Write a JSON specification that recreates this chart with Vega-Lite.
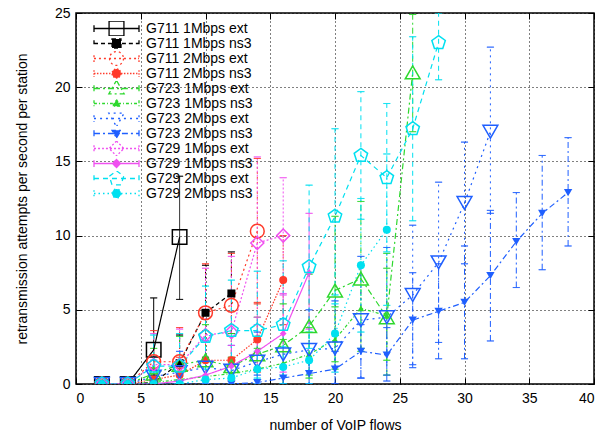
{
  "$schema": "https://vega.github.io/schema/vega-lite/v6.json",
  "width": 518,
  "height": 371,
  "autosize": {"type": "none"},
  "padding": {"left": 76, "top": 13, "right": 19, "bottom": 50},
  "config": {
    "font": "Liberation Sans",
    "view": {"stroke": "#000", "strokeWidth": 1.5},
    "axis": {"labelFontSize": 14, "titleFontSize": 14, "titleFontWeight": "normal", "labelColor": "#000", "titleColor": "#000", "tickColor": "#000", "domain": false}
  },
  "data": {"values": [
    {"s":"G711 1Mbps ext","x":2,"y":0,"lo":0,"hi":0},{"s":"G711 1Mbps ext","x":4,"y":0,"lo":0,"hi":0},{"s":"G711 1Mbps ext","x":6,"y":2.3,"lo":0,"hi":5.8},{"s":"G711 1Mbps ext","x":8,"y":9.9,"lo":5.7,"hi":14.0},
    {"s":"G711 1Mbps ns3","x":2,"y":0,"lo":0,"hi":0},{"s":"G711 1Mbps ns3","x":4,"y":0,"lo":0,"hi":0},{"s":"G711 1Mbps ns3","x":6,"y":0.1,"lo":0,"hi":0.6},{"s":"G711 1Mbps ns3","x":8,"y":1.4,"lo":0,"hi":3.3},{"s":"G711 1Mbps ns3","x":10,"y":4.8,"lo":1.8,"hi":8.0},{"s":"G711 1Mbps ns3","x":12,"y":6.1,"lo":3.4,"hi":8.9},
    {"s":"G711 2Mbps ext","x":2,"y":0,"lo":0,"hi":0},{"s":"G711 2Mbps ext","x":4,"y":0,"lo":0,"hi":0},{"s":"G711 2Mbps ext","x":6,"y":1.5,"lo":0,"hi":3.6},{"s":"G711 2Mbps ext","x":8,"y":1.5,"lo":0,"hi":3.8},{"s":"G711 2Mbps ext","x":10,"y":4.8,"lo":1.6,"hi":8.1},{"s":"G711 2Mbps ext","x":12,"y":5.3,"lo":1.8,"hi":8.8},{"s":"G711 2Mbps ext","x":14,"y":10.3,"lo":5.4,"hi":15.2},
    {"s":"G711 2Mbps ns3","x":2,"y":0,"lo":0,"hi":0},{"s":"G711 2Mbps ns3","x":4,"y":0,"lo":0,"hi":0},{"s":"G711 2Mbps ns3","x":6,"y":0.3,"lo":0,"hi":1.0},{"s":"G711 2Mbps ns3","x":8,"y":0.6,"lo":0,"hi":1.8},{"s":"G711 2Mbps ns3","x":10,"y":1.6,"lo":0,"hi":3.6},{"s":"G711 2Mbps ns3","x":12,"y":1.6,"lo":0.2,"hi":3.2},{"s":"G711 2Mbps ns3","x":14,"y":3.0,"lo":0.8,"hi":5.5},{"s":"G711 2Mbps ns3","x":16,"y":7.0,"lo":4.0,"hi":10.0},
    {"s":"G723 1Mbps ext","x":2,"y":0,"lo":0,"hi":0},{"s":"G723 1Mbps ext","x":4,"y":0,"lo":0,"hi":0},{"s":"G723 1Mbps ext","x":6,"y":0.7,"lo":0,"hi":2.4},{"s":"G723 1Mbps ext","x":8,"y":1.3,"lo":0,"hi":3.2},{"s":"G723 1Mbps ext","x":10,"y":1.6,"lo":0,"hi":4.0},{"s":"G723 1Mbps ext","x":12,"y":1.2,"lo":0,"hi":3.4},{"s":"G723 1Mbps ext","x":14,"y":2.0,"lo":0,"hi":4.5},{"s":"G723 1Mbps ext","x":16,"y":2.6,"lo":0,"hi":5.4},{"s":"G723 1Mbps ext","x":18,"y":3.9,"lo":0.6,"hi":7.4},{"s":"G723 1Mbps ext","x":20,"y":6.3,"lo":1.5,"hi":11.3},{"s":"G723 1Mbps ext","x":22,"y":7.1,"lo":2.2,"hi":12.3},{"s":"G723 1Mbps ext","x":24,"y":4.5,"lo":0.6,"hi":8.8},{"s":"G723 1Mbps ext","x":26,"y":21.0,"lo":17.0,"hi":24.9},
    {"s":"G723 1Mbps ns3","x":2,"y":0,"lo":0,"hi":0},{"s":"G723 1Mbps ns3","x":4,"y":0,"lo":0,"hi":0},{"s":"G723 1Mbps ns3","x":6,"y":0.1,"lo":0,"hi":0.7},{"s":"G723 1Mbps ns3","x":8,"y":0.3,"lo":0,"hi":1.2},{"s":"G723 1Mbps ns3","x":10,"y":0.5,"lo":0,"hi":1.5},{"s":"G723 1Mbps ns3","x":12,"y":0.7,"lo":0,"hi":1.8},{"s":"G723 1Mbps ns3","x":14,"y":1.0,"lo":0,"hi":2.4},{"s":"G723 1Mbps ns3","x":16,"y":1.4,"lo":0,"hi":3.0},{"s":"G723 1Mbps ns3","x":18,"y":2.0,"lo":0.4,"hi":3.8},{"s":"G723 1Mbps ns3","x":20,"y":3.0,"lo":1.0,"hi":5.2},{"s":"G723 1Mbps ns3","x":22,"y":5.1,"lo":2.4,"hi":8.0},{"s":"G723 1Mbps ns3","x":24,"y":4.6,"lo":1.6,"hi":7.8},
    {"s":"G723 2Mbps ext","x":2,"y":0,"lo":0,"hi":0},{"s":"G723 2Mbps ext","x":4,"y":0,"lo":0,"hi":0},{"s":"G723 2Mbps ext","x":6,"y":0.5,"lo":0,"hi":1.6},{"s":"G723 2Mbps ext","x":8,"y":0.8,"lo":0,"hi":2.2},{"s":"G723 2Mbps ext","x":10,"y":1.1,"lo":0,"hi":2.9},{"s":"G723 2Mbps ext","x":12,"y":0.9,"lo":0,"hi":2.6},{"s":"G723 2Mbps ext","x":14,"y":1.5,"lo":0,"hi":3.5},{"s":"G723 2Mbps ext","x":16,"y":2.0,"lo":0,"hi":4.4},{"s":"G723 2Mbps ext","x":18,"y":2.3,"lo":0,"hi":5.0},{"s":"G723 2Mbps ext","x":20,"y":2.4,"lo":0,"hi":5.6},{"s":"G723 2Mbps ext","x":22,"y":4.3,"lo":0.4,"hi":8.6},{"s":"G723 2Mbps ext","x":24,"y":4.5,"lo":0.6,"hi":9.2},{"s":"G723 2Mbps ext","x":26,"y":6.0,"lo":1.3,"hi":10.7},{"s":"G723 2Mbps ext","x":28,"y":8.2,"lo":2.8,"hi":13.6},{"s":"G723 2Mbps ext","x":30,"y":12.2,"lo":8.1,"hi":16.3},{"s":"G723 2Mbps ext","x":32,"y":17.0,"lo":11.5,"hi":22.7},
    {"s":"G723 2Mbps ns3","x":2,"y":0,"lo":0,"hi":0},{"s":"G723 2Mbps ns3","x":4,"y":0,"lo":0,"hi":0},{"s":"G723 2Mbps ns3","x":6,"y":0,"lo":0,"hi":0},{"s":"G723 2Mbps ns3","x":8,"y":0,"lo":0,"hi":0.2},{"s":"G723 2Mbps ns3","x":10,"y":0,"lo":0,"hi":0.3},{"s":"G723 2Mbps ns3","x":12,"y":0,"lo":0,"hi":0.3},{"s":"G723 2Mbps ns3","x":14,"y":0.1,"lo":0,"hi":0.6},{"s":"G723 2Mbps ns3","x":16,"y":0.4,"lo":0,"hi":1.1},{"s":"G723 2Mbps ns3","x":18,"y":0.7,"lo":0,"hi":1.6},{"s":"G723 2Mbps ns3","x":20,"y":1.0,"lo":0,"hi":2.2},{"s":"G723 2Mbps ns3","x":22,"y":2.2,"lo":0.4,"hi":4.0},{"s":"G723 2Mbps ns3","x":24,"y":1.95,"lo":0.2,"hi":3.8},{"s":"G723 2Mbps ns3","x":26,"y":4.3,"lo":1.1,"hi":7.5},{"s":"G723 2Mbps ns3","x":28,"y":4.9,"lo":1.7,"hi":8.1},{"s":"G723 2Mbps ns3","x":30,"y":5.5,"lo":1.7,"hi":9.3},{"s":"G723 2Mbps ns3","x":32,"y":7.3,"lo":2.9,"hi":11.7},{"s":"G723 2Mbps ns3","x":34,"y":9.6,"lo":6.5,"hi":12.9},{"s":"G723 2Mbps ns3","x":36,"y":11.5,"lo":7.7,"hi":15.4},{"s":"G723 2Mbps ns3","x":38,"y":12.9,"lo":9.3,"hi":16.6},
    {"s":"G729 1Mbps ext","x":2,"y":0,"lo":0,"hi":0},{"s":"G729 1Mbps ext","x":4,"y":0,"lo":0,"hi":0},{"s":"G729 1Mbps ext","x":6,"y":1.3,"lo":0,"hi":3.4},{"s":"G729 1Mbps ext","x":8,"y":1.3,"lo":0,"hi":3.7},{"s":"G729 1Mbps ext","x":10,"y":3.3,"lo":0,"hi":7.8},{"s":"G729 1Mbps ext","x":12,"y":3.5,"lo":0.4,"hi":8.6},{"s":"G729 1Mbps ext","x":14,"y":9.5,"lo":4.0,"hi":15.3},{"s":"G729 1Mbps ext","x":16,"y":10.0,"lo":6.1,"hi":13.9},
    {"s":"G729 1Mbps ns3","x":2,"y":0,"lo":0,"hi":0},{"s":"G729 1Mbps ns3","x":4,"y":0,"lo":0,"hi":0},{"s":"G729 1Mbps ns3","x":6,"y":0,"lo":0,"hi":0.2},{"s":"G729 1Mbps ns3","x":8,"y":0.2,"lo":0,"hi":0.8},{"s":"G729 1Mbps ns3","x":10,"y":0.6,"lo":0,"hi":1.6},{"s":"G729 1Mbps ns3","x":12,"y":1.2,"lo":0,"hi":2.6},{"s":"G729 1Mbps ns3","x":14,"y":2.2,"lo":0,"hi":4.5},{"s":"G729 1Mbps ns3","x":16,"y":3.4,"lo":0.8,"hi":6.0},{"s":"G729 1Mbps ns3","x":18,"y":7.5,"lo":3.7,"hi":11.5},
    {"s":"G729 2Mbps ext","x":2,"y":0,"lo":0,"hi":0},{"s":"G729 2Mbps ext","x":4,"y":0,"lo":0,"hi":0},{"s":"G729 2Mbps ext","x":6,"y":1.2,"lo":0,"hi":3.3},{"s":"G729 2Mbps ext","x":8,"y":1.2,"lo":0,"hi":3.4},{"s":"G729 2Mbps ext","x":10,"y":3.2,"lo":0.4,"hi":6.6},{"s":"G729 2Mbps ext","x":12,"y":3.6,"lo":0.6,"hi":7.0},{"s":"G729 2Mbps ext","x":14,"y":3.6,"lo":0.4,"hi":7.6},{"s":"G729 2Mbps ext","x":16,"y":4.0,"lo":0.5,"hi":8.3},{"s":"G729 2Mbps ext","x":18,"y":7.9,"lo":2.4,"hi":13.4},{"s":"G729 2Mbps ext","x":20,"y":11.3,"lo":5.4,"hi":17.2},{"s":"G729 2Mbps ext","x":22,"y":15.4,"lo":11.1,"hi":19.7},{"s":"G729 2Mbps ext","x":24,"y":13.9,"lo":8.9,"hi":18.9},{"s":"G729 2Mbps ext","x":26,"y":17.2,"lo":11.0,"hi":23.4},{"s":"G729 2Mbps ext","x":28,"y":23.0,"lo":20.5,"hi":25},
    {"s":"G729 2Mbps ns3","x":2,"y":0,"lo":0,"hi":0},{"s":"G729 2Mbps ns3","x":4,"y":0,"lo":0,"hi":0},{"s":"G729 2Mbps ns3","x":6,"y":0,"lo":0,"hi":0.3},{"s":"G729 2Mbps ns3","x":8,"y":0,"lo":0,"hi":0.3},{"s":"G729 2Mbps ns3","x":10,"y":0.3,"lo":0,"hi":1.0},{"s":"G729 2Mbps ns3","x":12,"y":0.4,"lo":0,"hi":1.2},{"s":"G729 2Mbps ns3","x":14,"y":1.0,"lo":0,"hi":2.2},{"s":"G729 2Mbps ns3","x":16,"y":1.15,"lo":0,"hi":2.5},{"s":"G729 2Mbps ns3","x":18,"y":1.6,"lo":0,"hi":3.5},{"s":"G729 2Mbps ns3","x":20,"y":3.4,"lo":0.8,"hi":6.0},{"s":"G729 2Mbps ns3","x":22,"y":8.0,"lo":3.5,"hi":12.5},{"s":"G729 2Mbps ns3","x":24,"y":10.4,"lo":5.3,"hi":15.5}
  ]},
  "resolve": {"axis": {"x": "independent", "y": "independent"}},
  "layer": [
    {
      "transform": [{"filter": "datum.x < 0"}],
      "mark": {"type": "point", "filled": false, "strokeWidth": 1.3, "opacity": 1},
      "encoding": {
        "x": {"field": "x", "type": "quantitative", "axis": null, "scale": {"domain": [0, 40], "nice": false}},
        "y": {"field": "y", "type": "quantitative", "axis": null, "scale": {"domain": [0, 25], "nice": false}},
        "color": {"field": "s", "type": "nominal",
          "scale": {"domain": ["G711 1Mbps ext","G711 1Mbps ns3","G711 2Mbps ext","G711 2Mbps ns3","G723 1Mbps ext","G723 1Mbps ns3","G723 2Mbps ext","G723 2Mbps ns3","G729 1Mbps ext","G729 1Mbps ns3","G729 2Mbps ext","G729 2Mbps ns3"],
                    "range": ["#000000","#000000","#ff3a2a","#ff3a2a","#2ed82e","#2ed82e","#1f5fff","#1f5fff","#f050f0","#f050f0","#00e0f0","#00e0f0"]},
          "legend": {
            "title": null, "orient": "none", "legendX": 17, "legendY": 8, "padding": 0, "offset": 0,
            "symbolSize": 2025, "symbolStrokeWidth": 1.3, "symbolOpacity": 1, "clipHeight": 15, "rowPadding": 0, "labelOffset": 6,
            "labelFontSize": 14, "labelFont": "Liberation Sans", "labelColor": "#000", "labelLimit": 300
          }},
        "shape": {"field": "s", "type": "nominal",
          "scale": {"domain": ["G711 1Mbps ext","G711 1Mbps ns3","G711 2Mbps ext","G711 2Mbps ns3","G723 1Mbps ext","G723 1Mbps ns3","G723 2Mbps ext","G723 2Mbps ns3","G729 1Mbps ext","G729 1Mbps ns3","G729 2Mbps ext","G729 2Mbps ns3"],
                    "range": [
                      "M-1,0H1M-1,-0.15V0.15M1,-0.15V0.15M-0.33,-0.33H0.33V0.33H-0.33Z",
                      "M-1,0H-0.82M-0.69,0H-0.51M-0.38,0H-0.2M-0.07,0H0.11M0.24,0H0.42M0.55,0H0.73M0.86,0H1M-1,-0.15V0.15M1,-0.15V0.15M-0.2,-0.2H0.2V0.2H-0.2Z",
                      "M-1,0H-0.91M-0.78,0H-0.69M-0.56,0H-0.47M-0.33,0H-0.24M-0.11,0H-0.02M0.11,0H0.2M0.33,0H0.42M0.56,0H0.65M0.78,0H0.87M0.96,0H1M-1,-0.15V0.15M1,-0.15V0.15M0.31,0A0.31,0.31,0,1,1,-0.31,0A0.31,0.31,0,1,1,0.31,0Z",
                      "M-1,0H-0.93M-0.87,0H-0.8M-0.73,0H-0.67M-0.6,0H-0.53M-0.47,0H-0.4M-0.33,0H-0.27M-0.2,0H-0.13M-0.07,0H0M0.07,0H0.13M0.2,0H0.27M0.33,0H0.4M0.47,0H0.53M0.6,0H0.67M0.73,0H0.8M0.87,0H0.93M-1,-0.15V0.15M1,-0.15V0.15M0.2,0A0.2,0.2,0,1,1,-0.2,0A0.2,0.2,0,1,1,0.2,0Z",
                      "M-1,0H-0.73M-0.6,0H-0.51M-0.38,0H-0.11M0.02,0H0.11M0.24,0H0.51M0.64,0H0.73M0.87,0H1M-1,-0.15V0.15M1,-0.15V0.15M0,-0.36L0.34,0.24L-0.34,0.24Z",
                      "M-1,0H-0.87M-0.78,0H-0.73M-0.64,0H-0.51M-0.42,0H-0.38M-0.29,0H-0.16M-0.07,0H-0.02M0.07,0H0.2M0.29,0H0.33M0.42,0H0.56M0.64,0H0.69M0.78,0H0.91M-1,-0.15V0.15M1,-0.15V0.15M0,-0.18L0.17,0.12L-0.17,0.12Z",
                      "M-1,0H-0.91M-0.73,0H-0.64M-0.47,0H-0.38M-0.2,0H-0.11M0.07,0H0.16M0.33,0H0.42M0.6,0H0.69M0.87,0H0.96M-1,-0.15V0.15M1,-0.15V0.15M0,0.36L0.34,-0.24L-0.34,-0.24Z",
                      "M-1,0H-0.73M-0.6,0H-0.51M-0.38,0H-0.11M0.02,0H0.11M0.24,0H0.51M0.64,0H0.73M0.87,0H1M-1,-0.15V0.15M1,-0.15V0.15M0,0.2L0.2,-0.14L-0.2,-0.14Z",
                      "M-1,0H-0.91M-0.82,0H-0.73M-0.64,0H-0.56M-0.47,0H-0.38M-0.29,0H-0.2M-0.11,0H-0.02M0.07,0H0.16M0.24,0H0.33M0.42,0H0.51M0.6,0H0.69M0.78,0H0.87M0.96,0H1M-1,-0.15V0.15M1,-0.15V0.15M0,-0.33L0.33,0L0,0.33L-0.33,0Z",
                      "M-1,0H1M-1,-0.15V0.15M1,-0.15V0.15M0,-0.18L0.18,0L0,0.18L-0.18,0Z",
                      "M-1,0H-0.78M-0.6,0H-0.38M-0.2,0H0.02M0.2,0H0.42M0.6,0H0.82M-1,-0.15V0.15M1,-0.15V0.15M0,-0.34L0.32,-0.1L0.2,0.28L-0.2,0.28L-0.32,-0.1Z",
                      "M-1,0H-0.93M-0.8,0H-0.73M-0.6,0H-0.53M-0.4,0H-0.33M-0.2,0H-0.13M0,0H0.07M0.2,0H0.27M0.4,0H0.47M0.6,0H0.67M0.8,0H0.87M-1,-0.15V0.15M1,-0.15V0.15M0.2,0A0.2,0.2,0,1,1,-0.2,0A0.2,0.2,0,1,1,0.2,0Z"
                    ]}},
        "fill": {"field": "s", "type": "nominal",
          "scale": {"domain": ["G711 1Mbps ext","G711 1Mbps ns3","G711 2Mbps ext","G711 2Mbps ns3","G723 1Mbps ext","G723 1Mbps ns3","G723 2Mbps ext","G723 2Mbps ns3","G729 1Mbps ext","G729 1Mbps ns3","G729 2Mbps ext","G729 2Mbps ns3"],
                    "range": ["transparent","#000000","transparent","#ff3a2a","transparent","#2ed82e","transparent","#1f5fff","transparent","#f050f0","transparent","#00e0f0"]}}
      }
    },
    {
      "mark": {"type": "rule", "strokeWidth": 1, "clip": true},
      "encoding": {
        "x": {"field": "x", "type": "quantitative", "axis": {"orient": "bottom", "values": [0,5,10,15,20,25,30,35,40], "title": "number of VoIP flows", "grid": true, "gridColor": "#000", "gridDash": [1,3], "gridOpacity": 1, "tickSize": -6, "labelPadding": 13, "titlePadding": 13}},
        "y": {"field": "lo", "type": "quantitative", "axis": {"orient": "left", "values": [0,5,10,15,20,25], "title": "retransmission attempts per second per station", "grid": true, "gridColor": "#000", "gridDash": [1,3], "gridOpacity": 1, "tickSize": -6, "labelPadding": 12, "titlePadding": 25}},
        "y2": {"field": "hi"},
        "color": {"field": "s", "type": "nominal"},
        "strokeDash": {"field": "s", "type": "nominal", "legend": null,
          "scale": {"domain": ["G711 1Mbps ext","G711 1Mbps ns3","G711 2Mbps ext","G711 2Mbps ns3","G723 1Mbps ext","G723 1Mbps ns3","G723 2Mbps ext","G723 2Mbps ns3","G729 1Mbps ext","G729 1Mbps ns3","G729 2Mbps ext","G729 2Mbps ns3"],
                    "range": [[1,0],[4,3],[2,3],[1.5,1.5],[6,3,2,3],[3,2,1,2],[2,4],[6,3,2,3],[2,2],[1,0],[5,4],[1.5,3]]}}
      }
    },
    {
      "mark": {"type": "tick", "orient": "horizontal", "size": 7, "thickness": 0.1, "filled": false, "strokeWidth": 1, "clip": true},
      "encoding": {
        "x": {"field": "x", "type": "quantitative", "axis": null},
        "y": {"field": "lo", "type": "quantitative", "axis": null},
        "color": {"field": "s", "type": "nominal"}
      }
    },
    {
      "mark": {"type": "tick", "orient": "horizontal", "size": 7, "thickness": 0.1, "filled": false, "strokeWidth": 1, "clip": true},
      "encoding": {
        "x": {"field": "x", "type": "quantitative", "axis": null},
        "y": {"field": "hi", "type": "quantitative", "axis": null},
        "color": {"field": "s", "type": "nominal"}
      }
    },
    {
      "mark": {"type": "line", "strokeWidth": 1.2, "clip": true},
      "encoding": {
        "x": {"field": "x", "type": "quantitative", "axis": {"orient": "top", "values": [0,5,10,15,20,25,30,35,40], "labels": false, "title": null, "grid": false, "tickSize": -6}},
        "y": {"field": "y", "type": "quantitative", "axis": {"orient": "right", "values": [0,5,10,15,20,25], "labels": false, "title": null, "grid": false, "tickSize": -6}},
        "color": {"field": "s", "type": "nominal"},
        "strokeDash": {"field": "s", "type": "nominal", "legend": null},
        "detail": {"field": "s"}
      }
    },
    {"transform": [{"filter": "datum.s === 'G711 1Mbps ext'"}], "mark": {"type": "point", "shape": "square", "size": 210, "filled": false, "strokeWidth": 1.5, "opacity": 1, "clip": true},
     "encoding": {"x": {"field": "x", "type": "quantitative", "axis": null}, "y": {"field": "y", "type": "quantitative", "axis": null}, "color": {"field": "s", "type": "nominal"}}},
    {"transform": [{"filter": "datum.s === 'G711 1Mbps ns3'"}], "mark": {"type": "point", "shape": "square", "size": 64, "filled": true, "opacity": 1, "clip": true},
     "encoding": {"x": {"field": "x", "type": "quantitative", "axis": null}, "y": {"field": "y", "type": "quantitative", "axis": null}, "fill": {"field": "s", "type": "nominal"}}},
    {"transform": [{"filter": "datum.s === 'G711 2Mbps ext'"}], "mark": {"type": "point", "shape": "circle", "size": 190, "filled": false, "strokeWidth": 1.5, "opacity": 1, "clip": true},
     "encoding": {"x": {"field": "x", "type": "quantitative", "axis": null}, "y": {"field": "y", "type": "quantitative", "axis": null}, "color": {"field": "s", "type": "nominal"}}},
    {"transform": [{"filter": "datum.s === 'G711 2Mbps ns3'"}], "mark": {"type": "point", "shape": "circle", "size": 64, "filled": true, "opacity": 1, "clip": true},
     "encoding": {"x": {"field": "x", "type": "quantitative", "axis": null}, "y": {"field": "y", "type": "quantitative", "axis": null}, "fill": {"field": "s", "type": "nominal"}}},
    {"transform": [{"filter": "datum.s === 'G723 1Mbps ext'"}], "mark": {"type": "point", "shape": "triangle-up", "size": 220, "filled": false, "strokeWidth": 1.5, "opacity": 1, "clip": true},
     "encoding": {"x": {"field": "x", "type": "quantitative", "axis": null}, "y": {"field": "y", "type": "quantitative", "axis": null}, "color": {"field": "s", "type": "nominal"}}},
    {"transform": [{"filter": "datum.s === 'G723 1Mbps ns3'"}], "mark": {"type": "point", "shape": "triangle-up", "size": 45, "filled": true, "opacity": 1, "clip": true},
     "encoding": {"x": {"field": "x", "type": "quantitative", "axis": null}, "y": {"field": "y", "type": "quantitative", "axis": null}, "fill": {"field": "s", "type": "nominal"}}},
    {"transform": [{"filter": "datum.s === 'G723 2Mbps ext'"}], "mark": {"type": "point", "shape": "triangle-down", "size": 220, "filled": false, "strokeWidth": 1.5, "opacity": 1, "clip": true},
     "encoding": {"x": {"field": "x", "type": "quantitative", "axis": null}, "y": {"field": "y", "type": "quantitative", "axis": null}, "color": {"field": "s", "type": "nominal"}}},
    {"transform": [{"filter": "datum.s === 'G723 2Mbps ns3'"}], "mark": {"type": "point", "shape": "triangle-down", "size": 70, "filled": true, "opacity": 1, "clip": true},
     "encoding": {"x": {"field": "x", "type": "quantitative", "axis": null}, "y": {"field": "y", "type": "quantitative", "axis": null}, "fill": {"field": "s", "type": "nominal"}}},
    {"transform": [{"filter": "datum.s === 'G729 1Mbps ext'"}], "mark": {"type": "point", "shape": "diamond", "size": 170, "filled": false, "strokeWidth": 1.5, "opacity": 1, "clip": true},
     "encoding": {"x": {"field": "x", "type": "quantitative", "axis": null}, "y": {"field": "y", "type": "quantitative", "axis": null}, "color": {"field": "s", "type": "nominal"}}},
    {"transform": [{"filter": "datum.s === 'G729 1Mbps ns3'"}], "mark": {"type": "point", "shape": "diamond", "size": 45, "filled": true, "opacity": 1, "clip": true},
     "encoding": {"x": {"field": "x", "type": "quantitative", "axis": null}, "y": {"field": "y", "type": "quantitative", "axis": null}, "fill": {"field": "s", "type": "nominal"}}},
    {"transform": [{"filter": "datum.s === 'G729 2Mbps ext'"}], "mark": {"type": "point", "shape": "M0,-1L0.951,-0.309L0.588,0.809L-0.588,0.809L-0.951,-0.309Z", "size": 200, "filled": false, "strokeWidth": 1.5, "opacity": 1, "clip": true},
     "encoding": {"x": {"field": "x", "type": "quantitative", "axis": null}, "y": {"field": "y", "type": "quantitative", "axis": null}, "color": {"field": "s", "type": "nominal"}}},
    {"transform": [{"filter": "datum.s === 'G729 2Mbps ns3'"}], "mark": {"type": "point", "shape": "circle", "size": 64, "filled": true, "opacity": 1, "clip": true},
     "encoding": {"x": {"field": "x", "type": "quantitative", "axis": null}, "y": {"field": "y", "type": "quantitative", "axis": null}, "fill": {"field": "s", "type": "nominal"}}}
  ]
}
